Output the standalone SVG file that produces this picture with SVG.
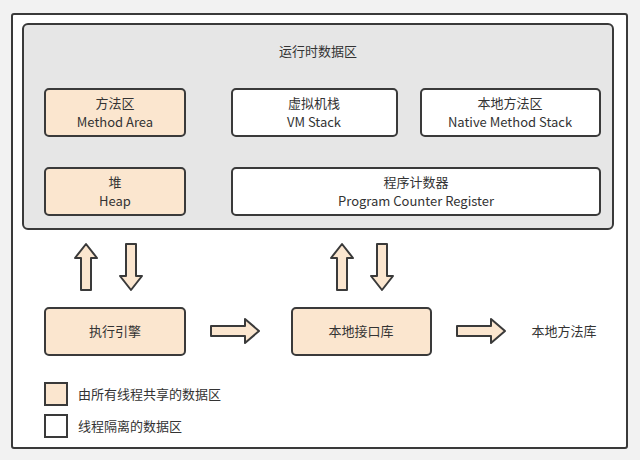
<svg xmlns="http://www.w3.org/2000/svg" width="640" height="460" viewBox="0 0 640 460">
<style>
text{font-family:"Noto Sans CJK SC","Liberation Sans",sans-serif;font-size:13px;fill:#333;text-anchor:middle}
.peach{fill:#fbe6cf;stroke:#3a3a3a;stroke-width:2}
.white{fill:#fff;stroke:#3a3a3a;stroke-width:2}
.arr{fill:#fbe6cf;stroke:#3a3a3a;stroke-width:2;stroke-linejoin:round}
</style>
<defs>
<path id="up" d="M-5,23 V-9 H-11 L0,-23 L11,-9 H5 V23 Z"/>
<path id="right" d="M-24,-5 H10 V-12 L24,0 L10,12 V5 H-24 Z"/>
</defs>
<rect width="640" height="460" fill="#f2f2f2"/>
<rect id="frame" x="12" y="14" width="615" height="434" fill="#fff" stroke="#3a3a3a" stroke-width="2" rx="2"/>
<g id="runtime"><rect x="23" y="24" width="590" height="205" rx="5" fill="#e6e6e6" stroke="#3a3a3a" stroke-width="2"/><text x="318" y="56">运行时数据区</text></g>
<g id="method"><rect class="peach" x="45" y="89" width="140" height="47" rx="4"/><text x="115" y="108">方法区</text><text x="115" y="127">Method Area</text></g>
<g id="vmstack"><rect class="white" x="232" y="89" width="165" height="47" rx="4"/><text x="314" y="108">虚拟机栈</text><text x="314" y="127">VM Stack</text></g>
<g id="native"><rect class="white" x="421" y="89" width="179" height="47" rx="4"/><text x="510" y="108">本地方法区</text><text x="510" y="127">Native Method Stack</text></g>
<g id="heap"><rect class="peach" x="45" y="168" width="140" height="47" rx="4"/><text x="115" y="187">堆</text><text x="115" y="206">Heap</text></g>
<g id="pc"><rect class="white" x="232" y="168" width="368" height="47" rx="4"/><text x="416" y="187">程序计数器</text><text x="416" y="206">Program Counter Register</text></g>
<g id="engine"><rect class="peach" x="45" y="308" width="140" height="47" rx="4"/><text x="115" y="336">执行引擎</text></g>
<g id="jni"><rect class="peach" x="292" y="308" width="139" height="47" rx="4"/><text x="361" y="336">本地接口库</text></g>
<g id="lib"><text x="564" y="336">本地方法库</text></g>
<g id="connectors">
<use href="#up" class="arr" transform="translate(86,267)"/>
<use href="#up" class="arr" transform="translate(131,267) rotate(180)"/>
<use href="#up" class="arr" transform="translate(342,267)"/>
<use href="#up" class="arr" transform="translate(382,267) rotate(180)"/>
<use href="#right" class="arr" transform="translate(235,331)"/>
<use href="#right" class="arr" transform="translate(481,331)"/>
</g>
<g id="legend">
<rect class="peach" x="45" y="383" width="22" height="22" stroke-width="1.5"/><text x="78" y="399" style="text-anchor:start">由所有线程共享的数据区</text>
<rect class="white" x="45" y="415" width="22" height="22" stroke-width="1.5"/><text x="78" y="431" style="text-anchor:start">线程隔离的数据区</text>
</g>
</svg>
